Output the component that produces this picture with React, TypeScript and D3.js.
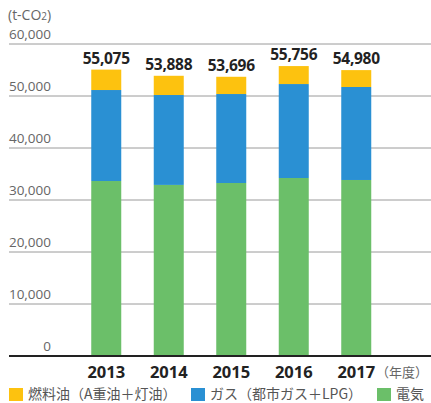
import React from 'react'
import * as d3 from 'd3'

const years = ['2013', '2014', '2015', '2016', '2017']
const electricity = [33650, 32900, 33270, 34230, 33850]
const gas = [17500, 17290, 17110, 18070, 17880]
const fuelOil = [3925, 3698, 3316, 3456, 3250]
const totals = ['55,075', '53,888', '53,696', '55,756', '54,980']
const yTicks = [0, 10000, 20000, 30000, 40000, 50000, 60000]
const seriesNames = ['燃料油（A重油＋灯油）', 'ガス（都市ガス＋LPG）', '電気']
const seriesColors = ['#fdc20f', '#2a90d3', '#6bbf69']

const W = 431
const H = 403
const numFont = '"Open Sans", "Noto Sans", sans-serif'
const jpFont = '"Noto Sans CJK JP", sans-serif'

const App: React.FC = () => {
  const x = d3.scaleBand().domain(years).range([75, 387.5]).paddingInner(0.52).paddingOuter(0.26)
  const y = d3.scaleLinear().domain([0, 60000]).range([356, 44])

  const rows = years.map((yr, i) => ({ year: yr, elec: electricity[i], gas: gas[i], fuel: fuelOil[i] }))
  const stack = d3.stack<any>().keys(['elec', 'gas', 'fuel'])(rows)
  const colorByKey: Record<string, string> = { elec: seriesColors[2], gas: seriesColors[1], fuel: seriesColors[0] }

  const legendX = [9, 191, 377]

  return (
    <svg width={W} height={H} style={{ position: 'absolute', left: 0, top: 0, background: '#fff' }}>
      <text x={8} y={20} fontFamily={numFont} fontSize={14} fill="#666">
        (t-CO<tspan fontSize={10}>2</tspan>)
      </text>
      {yTicks.map((t) => (
        <g key={t}>
          {t > 0 && <line x1={9} x2={W} y1={y(t)} y2={y(t)} stroke="#9a9a9a" strokeWidth={1} />}
          <text x={51} y={y(t) - 5} textAnchor="end" fontFamily={numFont} fontSize={13.5} fill="#666">
            {d3.format(',')(t)}
          </text>
        </g>
      ))}
      {stack.map((layer) => (
        <g key={layer.key} fill={colorByKey[layer.key]}>
          {layer.map((d, i) => (
            <rect key={i} x={x(years[i])} width={x.bandwidth()} y={y(d[1])} height={y(d[0]) - y(d[1])} />
          ))}
        </g>
      ))}
      <line x1={9} x2={W} y1={y(0)} y2={y(0)} stroke="#222" strokeWidth={2} />
      {years.map((yr, i) => {
        const cx = (x(yr) || 0) + x.bandwidth() / 2
        const top = stack[2][i][1]
        return (
          <g key={yr}>
            <text x={cx} y={y(top) - 6} textAnchor="middle" fontFamily={numFont} fontWeight="bold" fontSize={15.5} fill="#222" letterSpacing={-0.3}>
              {totals[i]}
            </text>
            <text x={cx} y={378} textAnchor="middle" fontFamily={numFont} fontWeight="bold" fontSize={16.5} fill="#222">
              {yr}
            </text>
          </g>
        )
      })}
      <text x={428} y={377} textAnchor="end" fontFamily={jpFont} fontSize={13} fill="#666">（年度）</text>
      {seriesNames.map((name, i) => (
        <g key={name}>
          <rect x={legendX[i]} y={388} width={14} height={13} fill={seriesColors[i]} />
          <text x={legendX[i] + 19} y={399} fontFamily={jpFont} fontSize={14} fill="#555">{name}</text>
        </g>
      ))}
    </svg>
  )
}

export default App
